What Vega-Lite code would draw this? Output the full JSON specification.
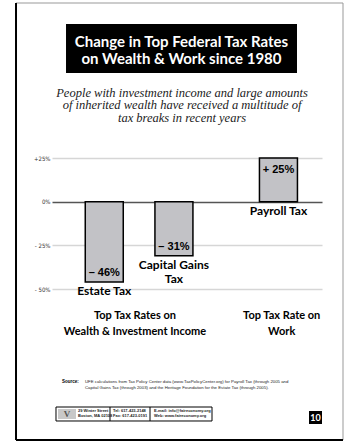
{
  "$schema": "https://vega.github.io/schema/vega-lite/v6.json",
  "width": 270,
  "height": 131,
  "autosize": {"type": "none"},
  "padding": {"left": 52, "top": 158, "right": 22, "bottom": 153},
  "background": "white",
  "config": {"view": {"stroke": null}},
  "data": {"values": [
    {"tax": "Estate Tax", "name": "Estate Tax", "change": -46, "label": "– 46%"},
    {"tax": "Capital Gains Tax", "name": "Capital Gains\nTax", "change": -31, "label": "– 31%"},
    {"tax": "Payroll Tax", "name": "Payroll Tax", "change": 25, "label": "+ 25%"}
  ]},
  "resolve": {"scale": {"x": "independent"}},
  "layer": [
    {
      "encoding": {
        "x": {"field": "tax", "type": "nominal", "axis": null,
          "scale": {"type": "point", "padding": 0, "domain": ["s0", "s1", "s2", "s3", "s4", "s5", "Estate Tax", "s7", "s8", "s9", "s10", "s11", "s12", "s13", "Capital Gains Tax", "s15", "s16", "s17", "s18", "s19", "s20", "s21", "s22", "s23", "s24", "s25", "Payroll Tax", "s27", "s28", "s29", "s30", "s31"]}}
      },
      "layer": [
        {
          "mark": {"type": "bar", "width": 38, "fill": "#c2c2c6", "stroke": "#000000", "strokeWidth": 1.5},
          "encoding": {
            "y": {"field": "change", "type": "quantitative", "title": null,
              "scale": {"domain": [-50, 25], "nice": false, "zero": true},
              "axis": {"values": [-50, -25, 0, 25], "grid": true, "domain": false, "ticks": false, "labelPadding": 2,
                "labelFontSize": 6, "labelFont": "Liberation Sans Narrow, DejaVu Sans Condensed, sans-serif", "labelColor": "#333333",
                "gridWidth": 1.5, "gridColor": {"condition": {"test": "datum.value === 0", "value": "#555555"}, "value": "#d6d6d6"},
                "labelExpr": "datum.value > 0 ? '+25%' : datum.value < 0 ? '- ' + abs(datum.value) + '%' : '0%'"}}
          }
        },
        {
          "transform": [{"filter": "datum.change < 0"}],
          "mark": {"type": "text", "baseline": "alphabetic", "dy": -6, "font": "Liberation Sans", "fontWeight": "bold", "fontSize": 11, "color": "#000000"},
          "encoding": {
            "y": {"field": "change", "type": "quantitative", "scale": {"domain": [-50, 25], "nice": false}},
            "text": {"field": "label"}
          }
        },
        {
          "transform": [{"filter": "datum.change > 0"}],
          "mark": {"type": "text", "baseline": "alphabetic", "dy": 15, "font": "Liberation Sans", "fontWeight": "bold", "fontSize": 11, "color": "#000000"},
          "encoding": {
            "y": {"field": "change", "type": "quantitative", "scale": {"domain": [-50, 25], "nice": false}},
            "text": {"field": "label"}
          }
        },
        {
          "transform": [{"calculate": "min(datum.change, 0)", "as": "base"}],
          "mark": {"type": "text", "baseline": "top", "dy": 4, "lineBreak": "\n", "lineHeight": 14, "font": "Lato", "fontWeight": "bold", "fontSize": 12, "color": "#000000"},
          "encoding": {
            "y": {"field": "base", "type": "quantitative", "scale": {"domain": [-50, 25], "nice": false}},
            "text": {"field": "name"}
          }
        }
      ]
    },
    {
      "data": {"values": [{}]},
      "layer": [
        {
          "mark": {"type": "rect", "fill": null, "stroke": "#999999", "strokeWidth": 1},
          "encoding": {
            "x": {"datum": -0.1333, "type": "quantitative", "axis": null, "scale": {"domain": [0, 1], "nice": false, "zero": false}},
            "x2": {"datum": 1.0778},
            "y": {"datum": 113.74, "type": "quantitative", "scale": {"domain": [-50, 25], "nice": false}},
            "y2": {"datum": -136.45}
          }
        },
        {
          "mark": {"type": "rule", "stroke": "#000000", "strokeWidth": 2},
          "encoding": {
            "x": {"datum": -0.1333, "type": "quantitative", "axis": null, "scale": {"domain": [0, 1], "nice": false, "zero": false}},
            "y": {"datum": 113.74, "type": "quantitative", "scale": {"domain": [-50, 25], "nice": false}},
            "y2": {"datum": -136.45}
          }
        },
        {
          "mark": {"type": "rule", "stroke": "#000000", "strokeWidth": 2},
          "encoding": {
            "x": {"datum": -0.1333, "type": "quantitative", "axis": null, "scale": {"domain": [0, 1], "nice": false, "zero": false}},
            "x2": {"datum": 1.0778},
            "y": {"datum": -136.45, "type": "quantitative", "scale": {"domain": [-50, 25], "nice": false}}
          }
        },
        {
          "mark": {"type": "rect", "fill": "#000000"},
          "encoding": {
            "x": {"datum": 0.0519, "type": "quantitative", "axis": null, "scale": {"domain": [0, 1], "nice": false, "zero": false}},
            "x2": {"datum": 0.9074},
            "y": {"datum": 101.72, "type": "quantitative", "scale": {"domain": [-50, 25], "nice": false}},
            "y2": {"datum": 73.66}
          }
        },
        {
          "mark": {"type": "text", "text": ["Change in Top Federal Tax Rates", "on Wealth & Work since 1980"], "align": "center", "baseline": "middle", "lineHeight": 16.5, "font": "Lato", "fontWeight": "bold", "fontSize": 15, "color": "#ffffff"},
          "encoding": {
            "x": {"datum": 0.4796, "type": "quantitative", "axis": null, "scale": {"domain": [0, 1], "nice": false, "zero": false}},
            "y": {"datum": 91.24, "type": "quantitative", "scale": {"domain": [-50, 25], "nice": false}}
          }
        },
        {
          "mark": {"type": "text", "text": ["People with investment income and large amounts", "of inherited wealth have received a multitude of", "tax breaks in recent years"], "align": "center", "baseline": "middle", "lineHeight": 12.5, "font": "Liberation Serif", "fontStyle": "italic", "fontSize": 12.5, "color": "#222222"},
          "encoding": {
            "x": {"datum": 0.4815, "type": "quantitative", "axis": null, "scale": {"domain": [0, 1], "nice": false, "zero": false}},
            "y": {"datum": 62.5, "type": "quantitative", "scale": {"domain": [-50, 25], "nice": false}}
          }
        },
        {
          "mark": {"type": "text", "text": ["Top Tax Rates on", "Wealth & Investment Income"], "align": "center", "baseline": "middle", "lineHeight": 16, "font": "Lato", "fontWeight": "bold", "fontSize": 11, "color": "#000000"},
          "encoding": {
            "x": {"datum": 0.3074, "type": "quantitative", "axis": null, "scale": {"domain": [0, 1], "nice": false, "zero": false}},
            "y": {"datum": -65.29, "type": "quantitative", "scale": {"domain": [-50, 25], "nice": false}}
          }
        },
        {
          "mark": {"type": "text", "text": ["Top Tax Rate on", "Work"], "align": "center", "baseline": "middle", "lineHeight": 16, "font": "Lato", "fontWeight": "bold", "fontSize": 11, "color": "#000000"},
          "encoding": {
            "x": {"datum": 0.8507, "type": "quantitative", "axis": null, "scale": {"domain": [0, 1], "nice": false, "zero": false}},
            "y": {"datum": -65.29, "type": "quantitative", "scale": {"domain": [-50, 25], "nice": false}}
          }
        },
        {
          "mark": {"type": "text", "text": "Source:", "align": "left", "baseline": "middle", "font": "Liberation Sans", "fontWeight": "bold", "fontSize": 4.5, "color": "#000000"},
          "encoding": {
            "x": {"datum": 0.037, "type": "quantitative", "axis": null, "scale": {"domain": [0, 1], "nice": false, "zero": false}},
            "y": {"datum": -103.24, "type": "quantitative", "scale": {"domain": [-50, 25], "nice": false}}
          }
        },
        {
          "mark": {"type": "text", "text": ["UFE calculations from Tax Policy Center data (www.TaxPolicyCenter.org) for Payroll Tax (through 2005 and", "Capital Gains Tax (through 2003) and the Heritage Foundation for the Estate Tax (through 2005)."], "align": "left", "baseline": "middle", "lineHeight": 6, "font": "Liberation Sans", "fontSize": 4.3, "color": "#222222"},
          "encoding": {
            "x": {"datum": 0.1222, "type": "quantitative", "axis": null, "scale": {"domain": [0, 1], "nice": false, "zero": false}},
            "y": {"datum": -103.24, "type": "quantitative", "scale": {"domain": [-50, 25], "nice": false}}
          }
        },
        {
          "mark": {"type": "rect", "fill": null, "stroke": "#000000", "strokeWidth": 1},
          "encoding": {
            "x": {"datum": 0.0148, "type": "quantitative", "axis": null, "scale": {"domain": [0, 1], "nice": false, "zero": false}},
            "x2": {"datum": 0.5926},
            "y": {"datum": -117.56, "type": "quantitative", "scale": {"domain": [-50, 25], "nice": false}},
            "y2": {"datum": -125.57}
          }
        },
        {
          "mark": {"type": "rect", "fill": "#c8c8c8"},
          "encoding": {
            "x": {"datum": 0.0222, "type": "quantitative", "axis": null, "scale": {"domain": [0, 1], "nice": false, "zero": false}},
            "x2": {"datum": 0.0889},
            "y": {"datum": -118.7, "type": "quantitative", "scale": {"domain": [-50, 25], "nice": false}},
            "y2": {"datum": -124.43}
          }
        },
        {
          "mark": {"type": "text", "text": "V", "align": "center", "baseline": "middle", "font": "Liberation Serif", "fontWeight": "bold", "fontSize": 9, "color": "#555555"},
          "encoding": {
            "x": {"datum": 0.0556, "type": "quantitative", "axis": null, "scale": {"domain": [0, 1], "nice": false, "zero": false}},
            "y": {"datum": -121.4, "type": "quantitative", "scale": {"domain": [-50, 25], "nice": false}}
          }
        },
        {
          "mark": {"type": "rule", "stroke": "#000000", "strokeWidth": 1},
          "encoding": {
            "x": {"datum": 0.2148, "type": "quantitative", "axis": null, "scale": {"domain": [0, 1], "nice": false, "zero": false}},
            "y": {"datum": -117.56, "type": "quantitative", "scale": {"domain": [-50, 25], "nice": false}},
            "y2": {"datum": -125.57}
          }
        },
        {
          "mark": {"type": "rule", "stroke": "#000000", "strokeWidth": 1},
          "encoding": {
            "x": {"datum": 0.363, "type": "quantitative", "axis": null, "scale": {"domain": [0, 1], "nice": false, "zero": false}},
            "y": {"datum": -117.56, "type": "quantitative", "scale": {"domain": [-50, 25], "nice": false}},
            "y2": {"datum": -125.57}
          }
        },
        {
          "mark": {"type": "text", "text": ["29 Winter Street", "Boston, MA 02108"], "align": "left", "baseline": "middle", "lineHeight": 5.5, "font": "Liberation Sans", "fontWeight": "bold", "fontSize": 4, "color": "#222222"},
          "encoding": {
            "x": {"datum": 0.0963, "type": "quantitative", "axis": null, "scale": {"domain": [0, 1], "nice": false, "zero": false}},
            "y": {"datum": -119.8, "type": "quantitative", "scale": {"domain": [-50, 25], "nice": false}}
          }
        },
        {
          "mark": {"type": "text", "text": ["Tel: 617-423-2148", "Fax: 617-423-0191"], "align": "left", "baseline": "middle", "lineHeight": 5.5, "font": "Liberation Sans", "fontWeight": "bold", "fontSize": 4, "color": "#222222"},
          "encoding": {
            "x": {"datum": 0.2259, "type": "quantitative", "axis": null, "scale": {"domain": [0, 1], "nice": false, "zero": false}},
            "y": {"datum": -119.8, "type": "quantitative", "scale": {"domain": [-50, 25], "nice": false}}
          }
        },
        {
          "mark": {"type": "text", "text": ["E-mail: info@faireconomy.org", "Web: www.faireconomy.org"], "align": "left", "baseline": "middle", "lineHeight": 5.5, "font": "Liberation Sans", "fontWeight": "bold", "fontSize": 4, "color": "#222222"},
          "encoding": {
            "x": {"datum": 0.3778, "type": "quantitative", "axis": null, "scale": {"domain": [0, 1], "nice": false, "zero": false}},
            "y": {"datum": -119.8, "type": "quantitative", "scale": {"domain": [-50, 25], "nice": false}}
          }
        },
        {
          "mark": {"type": "rect", "fill": "#000000"},
          "encoding": {
            "x": {"datum": 0.9519, "type": "quantitative", "axis": null, "scale": {"domain": [0, 1], "nice": false, "zero": false}},
            "x2": {"datum": 1.0},
            "y": {"datum": -119.85, "type": "quantitative", "scale": {"domain": [-50, 25], "nice": false}},
            "y2": {"datum": -127.29}
          }
        },
        {
          "mark": {"type": "text", "text": "10", "align": "center", "baseline": "middle", "font": "Lato", "fontWeight": "bold", "fontSize": 9, "color": "#ffffff"},
          "encoding": {
            "x": {"datum": 0.9759, "type": "quantitative", "axis": null, "scale": {"domain": [0, 1], "nice": false, "zero": false}},
            "y": {"datum": -123.57, "type": "quantitative", "scale": {"domain": [-50, 25], "nice": false}}
          }
        }
      ]
    }
  ]
}
